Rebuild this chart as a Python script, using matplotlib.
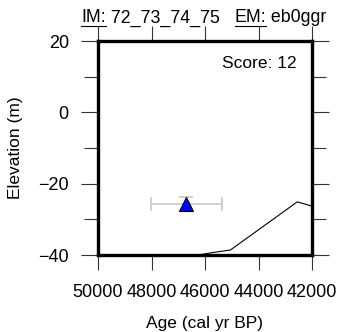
import numpy as np
import matplotlib
matplotlib.use("Agg")
import matplotlib.pyplot as plt
from matplotlib.lines import Line2D

plt.rcParams['font.family'] = ['Liberation Sans', 'DejaVu Sans']

# model curve (age, elevation)
curve_age = [48000, 46500, 45700, 45050, 42550, 42000]
curve_elev = [-41.5, -40.3, -39.3, -38.6, -25.1, -26.3]

# sample
sample_age = [46700]
sample_elev = [-25.7]
sample_age_err = [1330]
sample_elev_err = [2.0]

score = 12
xticks = [50000, 48000, 46000, 44000, 42000]
yticks = [20, 0, -20, -40]
title_parts = ['IM:', ' 72_73_74_75   ', 'EM:', ' eb0ggr']

fig = plt.figure(figsize=(3.37, 3.32), dpi=100)
ax = fig.add_axes([98/337, 1 - 255/332, 214/337, 214/332])

ax.plot(curve_age, curve_elev, color='black', lw=0.8, zorder=2)
ax.errorbar(sample_age, sample_elev, xerr=sample_age_err, yerr=sample_elev_err,
            fmt='none', ecolor='#c8c8c8', elinewidth=1.2, capsize=5, capthick=1.2, zorder=3)
ax.plot(sample_age, sample_elev, marker='^', ms=10, mfc='blue', mec='black',
        mew=0.8, ls='none', zorder=4)

ax.set_xlim(50000, 42000)
ax.set_ylim(-40, 20)
ax.set_xticks(xticks)
ax.set_xticklabels([str(t) for t in xticks])
ax.set_xticks(np.arange(49000, 42000, 2000), minor=True)
ax.set_yticks(yticks)
ax.set_yticklabels([str(t).replace('-', '\u2212') for t in yticks])
ax.set_yticks([10, -10, -30], minor=True)

for s in ax.spines.values():
    s.set_linewidth(2.4)
ax.tick_params(which='both', direction='out', top=True, right=True,
               labelsize=13, width=0.8, color='#333333')
ax.tick_params(which='major', length=11, pad=6)
ax.tick_params(which='minor', length=6)
ax.tick_params(axis='y', which='major', length=12, pad=9)
ax.tick_params(axis='y', which='minor', length=10)
ax.tick_params(axis='x', which='major', pad=10)

ax.set_xlabel('Age (cal yr BP)', fontsize=12.5, labelpad=11)
ax.set_ylabel('Elevation (m)', fontsize=12.5, labelpad=11)

ax.text(0.93, 0.93, 'Score: %d' % score, transform=ax.transAxes,
        ha='right', va='top', fontsize=12.5)

# title with underlined labels, laid out piece by piece
renderer = fig.canvas.get_renderer()
ty = 1 - 18/332
full = fig.text(0, ty, ''.join(title_parts), fontsize=12.8, va='center')
total_w = full.get_window_extent(renderer).width
full.remove()
x = 204 - total_w / 2
for i, part in enumerate(title_parts):
    t = fig.text(x / 337, ty, part, fontsize=12.8, va='center')
    bb = t.get_window_extent(renderer)
    if i % 2 == 0:
        fig.add_artist(Line2D([bb.x0 / 337, bb.x1 / 337], [(bb.y0 + 1) / 332] * 2,
                              transform=fig.transFigure, color='black', lw=0.8))
    x += bb.width

fig.savefig('out.png', dpi=100)
